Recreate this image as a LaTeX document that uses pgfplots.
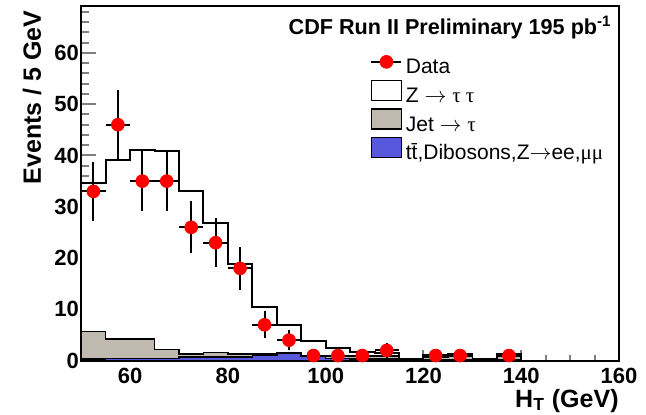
\documentclass[border=0pt]{standalone}
\usepackage{fontspec}
\setmainfont{Liberation Sans}
\newfontfamily\symf{Liberation Serif}
\usepackage{pgfplots}
\pgfplotsset{compat=1.18}

\definecolor{jetgrey}{RGB}{192,185,175}
\definecolor{ewkblue}{RGB}{88,88,221}

% Stacked predictions, one value per 5 GeV bin (left bin edge)
% ztt: total stack (Z->tautau on top), jet: jet->tau + electroweak, ewk: ttbar, dibosons, Z->ee,mumu
\pgfplotstableread{
x    ztt   jet   ewk
50   34.7  5.7   0.3
55   39.1  4.2   0.4
60   41.1  4.2   0.4
65   40.8  2.2   0.4
70   33.1  1.3   0.7
75   26.9  1.6   0.7
80   18.9  1.3   0.7
85   10.5  1.3   1.0
90   6.9   1.5   1.4
95   3.8   1.0   0.8
100  2.5   0.8   0.4
105  1.6   0.9   0.3
110  1.4   0.9   0.3
115  0.4   0.2   0.1
120  1.1   0.7   0.2
125  1.3   0.8   0.2
130  0.3   0.1   0.0
135  1.3   0.8   0.2
140  0.0   0.0   0.0
}\stack

% Observed events with Poisson errors
\pgfplotstableread{
x      y   e
52.5   33  5.74
57.5   46  6.78
62.5   35  5.92
67.5   35  5.92
72.5   26  5.10
77.5   23  4.80
82.5   18  4.24
87.5   7   2.65
92.5   4   2.00
97.5   1   1.00
102.5  1   1.00
107.5  1   1.00
112.5  2   1.41
122.5  1   1.00
127.5  1   1.00
137.5  1   1.00
}\data

\newcommand{\arr}{\ensuremath{\rightarrow}}

\begin{document}
\begin{tikzpicture}
\begin{axis}[
  scale only axis, width=268.9pt, height=177.5pt,
  xmin=50, xmax=160, ymin=0, ymax=69.2,
  clip=false,
  axis line style={line width=1pt},
  tick pos=left, tick align=inside,
  xtick={60,80,...,160},
  minor xtick={55,65,70,75,85,90,95,105,110,115,125,130,135,145,150,155},
  ytick={0,10,...,60},
  minor ytick={2,4,...,68},
  xtick style={line width=1pt, /pgfplots/major tick length=5.5pt, /pgfplots/minor tick length=2.75pt},
  ytick style={line width=1pt, /pgfplots/major tick length=7.5pt, /pgfplots/minor tick length=3.75pt},
  /pgf/number format/assume math mode=true,
  ticklabel style={font=\bfseries\fontsize{11}{13}\selectfont},
  xticklabel style={inner sep=0pt, yshift=-3.5pt},
  yticklabel style={inner sep=1pt},
  legend style={at={(rel axis cs:0.537,0.862)}, anchor=north west,
    draw=none, fill=none, inner sep=0pt, row sep=0.4pt,
    font=\fontsize{10.5}{12}\selectfont,
    nodes={inner sep=0pt, text height=7.5pt, text depth=2.5pt}},
  legend cell align=left,
]
\addlegendimage{legend image code/.code={
  \draw[black, line width=1pt] (0pt,3.5pt) -- (15pt,3.5pt);
  \fill[red] (7.5pt,3.5pt) circle (3.2pt);}}
\addlegendentry{\,Data}
\addlegendimage{legend image code/.code={
  \draw[black, line width=0.8pt, fill=white] (0pt,-1.5pt) rectangle (15pt,8.5pt);}}
\addlegendentry{\,Z \arr\ {\symf τ τ}}
\addlegendimage{legend image code/.code={
  \draw[black, line width=0.8pt, fill=jetgrey] (0pt,-1.5pt) rectangle (15pt,8.5pt);}}
\addlegendentry{\,Jet \arr\ {\symf τ}}
\addlegendimage{legend image code/.code={
  \draw[black, line width=0.8pt, fill=ewkblue] (0pt,-1.5pt) rectangle (15pt,8.5pt);}}
\addlegendentry{\,t\=t,Dibosons,Z\arr ee,{\symf μμ}}

% stacked histograms
\addplot[const plot, draw=black, line width=1pt, fill=white, forget plot]
  table[x=x, y=ztt] {\stack} \closedcycle;
\addplot[const plot, draw=black, line width=0.8pt, fill=jetgrey, forget plot]
  table[x=x, y=jet] {\stack} \closedcycle;
\addplot[const plot, draw=black, line width=0.8pt, fill=ewkblue, forget plot]
  table[x=x, y=ewk] {\stack} \closedcycle;

% data points
\addplot[only marks, mark=*, mark size=3.2pt, mark options={fill=red, draw=red}, forget plot,
  error bars/.cd, x dir=both, x fixed=2.5, y dir=both, y explicit,
  error mark=none, error bar style={black, line width=1pt}]
  table[x=x, y=y, y error=e] {\data};

% title, axis labels
\node[anchor=north east, inner sep=0pt, font=\bfseries\fontsize{10.8}{13}\selectfont,
  xshift=-3.5pt, yshift=-5pt] at (rel axis cs:1,1) {CDF Run II Preliminary 195 pb\textsuperscript{-1}};
\node[anchor=north east, inner sep=0pt, font=\bfseries\fontsize{12.5}{14}\selectfont,
  yshift=-14pt] at (rel axis cs:1,0) {H\textsubscript{T} (GeV)};
\node[xshift=-24.6pt, yshift=-2.2pt, anchor=east, rotate=90, inner sep=0pt,
  font=\bfseries\fontsize{12.5}{14}\selectfont] at (rel axis cs:0,1) {Events / 5 GeV};

% page frame
\path (rel axis cs:-0.151,-0.153) rectangle (rel axis cs:1.0502,1.016);
\end{axis}
\end{tikzpicture}
\end{document}
